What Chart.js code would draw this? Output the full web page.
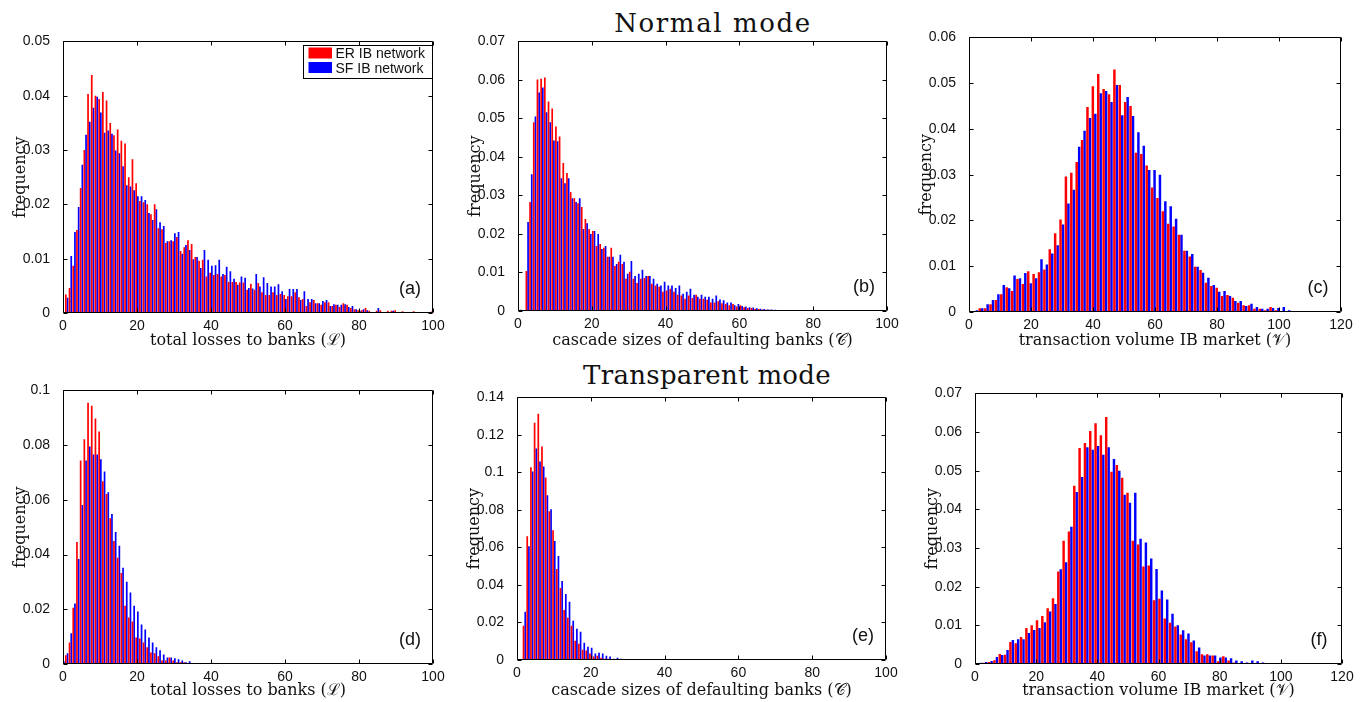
<!DOCTYPE html>
<html><head><meta charset="utf-8">
<script src="https://cdn.jsdelivr.net/npm/chart.js@4.4.1/dist/chart.umd.min.js"></script>
<style>
html,body{margin:0;padding:0;background:#fff;}
#wrap{position:relative;width:1365px;height:702px;overflow:hidden;background:#fff;}
#wrap canvas{position:absolute;}
.ttl{position:absolute;font-family:'DejaVu Serif',serif;font-size:26px;line-height:26px;color:#111;white-space:nowrap;transform:translateX(-50%);}
</style></head><body>
<div id="wrap">
<div class="ttl" style="left:713px;top:10px;letter-spacing:1.6px;">Normal mode</div>
<div class="ttl" style="left:707px;top:362px;letter-spacing:0.3px;">Transparent mode</div>
</div>
<script>
// ---------- labels / ticks ----------
const seriesLabels = ['ER IB network', 'SF IB network'];
const seriesColors = ['#ff0000', '#0000ff'];
const xTicks100 = [0, 20, 40, 60, 80, 100];
const xTicks120 = [0, 20, 40, 60, 80, 100, 120];
const yTicksNormalLoss = [0, 0.01, 0.02, 0.03, 0.04, 0.05];
const yTicksNormalCascade = [0, 0.01, 0.02, 0.03, 0.04, 0.05, 0.06, 0.07];
const yTicksNormalVolume = [0, 0.01, 0.02, 0.03, 0.04, 0.05, 0.06];
const yTicksTranspLoss = [0, 0.02, 0.04, 0.06, 0.08, 0.1];
const yTicksTranspCascade = [0, 0.02, 0.04, 0.06, 0.08, 0.1, 0.12, 0.14];
const yTicksTranspVolume = [0, 0.01, 0.02, 0.03, 0.04, 0.05, 0.06, 0.07];
const yTitle = 'frequency';
const xTitleLoss = 'total losses to banks (\u2112)';
const xTitleCascade = 'cascade sizes of defaulting banks (\u{1D49E})';
const xTitleVolume = 'transaction volume IB market (\u{1D4B1})';

// ---------- histogram bins (first bin centre, bin width) ----------
const binsNormalLoss = [1, 1];
const binsNormalCascade = [0.5, 1];
const binsNormalVolume = [0.4, 1.737];
const binsTranspLoss = [0, 1];
const binsTranspCascade = [0, 1];
const binsTranspVolume = [1.54, 1.74];

// ---------- series values ----------
const normalLossER = [0.0034,0.0046,0.0087,0.0153,0.0230,0.0300,0.0403,0.0438,0.0400,0.0394,
 0.0407,0.0391,0.0350,0.0327,0.0338,0.0317,0.0312,0.0250,0.0283,0.0239,
 0.0206,0.0204,0.0200,0.0182,0.0200,0.0156,0.0154,0.0129,0.0132,0.0132,
 0.0140,0.0114,0.0121,0.0134,0.0127,0.0103,0.0096,0.0098,0.0067,0.0074,
 0.0070,0.0072,0.0067,0.0070,0.0057,0.0057,0.0057,0.0056,0.0056,0.0043,
 0.0054,0.0043,0.0055,0.0038,0.0033,0.0033,0.0038,0.0033,0.0035,0.0033,
 0.0031,0.0031,0.0038,0.0029,0.0026,0.0013,0.0020,0.0024,0.0018,0.0015,
 0.0020,0.0020,0.0013,0.0015,0.0011,0.0018,0.0015,0.0009,0.0007,0.0005,
 0.0005,0.0009,0.0004,0.0002,0.0004,0.0005,0.0002,0.0004,0.0004,0.0005,
 0.0002,0.0003,0.0002,0.0002,0.0003,0.0002,0.0002,0.0001,0.0002,0.0003];
const normalLossSF = [0.0028,0.0105,0.0149,0.0195,0.0273,0.0328,0.0352,0.0378,0.0398,0.0369,
 0.0332,0.0336,0.0330,0.0299,0.0294,0.0270,0.0235,0.0233,0.0226,0.0215,
 0.0215,0.0208,0.0184,0.0171,0.0191,0.0167,0.0160,0.0132,0.0134,0.0147,
 0.0149,0.0109,0.0125,0.0116,0.0099,0.0103,0.0083,0.0116,0.0098,0.0087,
 0.0088,0.0098,0.0072,0.0085,0.0077,0.0063,0.0052,0.0067,0.0065,0.0046,
 0.0045,0.0072,0.0049,0.0066,0.0055,0.0049,0.0049,0.0053,0.0040,0.0026,
 0.0044,0.0044,0.0044,0.0024,0.0040,0.0026,0.0026,0.0018,0.0018,0.0022,
 0.0024,0.0013,0.0016,0.0015,0.0015,0.0016,0.0011,0.0013,0.0007,0.0004,
 0.0007,0.0005,0.0002,0.0002,0.0009,0.0002,0.0002,0.0002,0.0004,0.0002,
 0.0002,0.0001,0.0002,0.0001,0.0001,0.0002,0.0001,0.0001,0.0001,0.0001];

const normalCascadeER = [0,0,0.0104,0.0283,0.0490,0.0601,0.0603,0.0606,0.0544,0.0526,
 0.0479,0.0453,0.0384,0.0358,0.0309,0.0293,0.0280,0.0270,0.0239,0.0213,
 0.0208,0.0169,0.0174,0.0164,0.0141,0.0164,0.0117,0.0128,0.0122,0.0084,
 0.0102,0.0084,0.0073,0.0084,0.0086,0.0091,0.0071,0.0066,0.0063,0.0050,
 0.0053,0.0058,0.0050,0.0042,0.0040,0.0032,0.0040,0.0034,0.0042,0.0032,
 0.0032,0.0029,0.0022,0.0022,0.0025,0.0020,0.0018,0.0015,0.0018,0.0012,
 0.0015,0.0010,0.0008,0.0008,0.0006,0.0005,0.0004,0.0003,0.0003,0.0002,
 0.0002,0.0002,0.0001,0.0002,0.0001,0.0001,0.0001,0.0001,0.0001,0.0001,
 0.0001,0,0.0001,0,0.0001,0,0,0.0001,0,0,
 0,0,0,0,0,0,0,0,0,0];
const normalCascadeSF = [0.0003,0,0.0231,0.0355,0.0505,0.0567,0.0580,0.0516,0.0490,0.0443,
 0.0441,0.0345,0.0332,0.0345,0.0293,0.0283,0.0293,0.0213,0.0228,0.0200,
 0.0208,0.0200,0.0161,0.0169,0.0141,0.0141,0.0122,0.0146,0.0128,0.0097,
 0.0130,0.0091,0.0097,0.0107,0.0091,0.0091,0.0084,0.0071,0.0066,0.0076,
 0.0066,0.0066,0.0060,0.0066,0.0045,0.0050,0.0058,0.0042,0.0037,0.0042,
 0.0037,0.0037,0.0032,0.0040,0.0030,0.0028,0.0022,0.0022,0.0015,0.0018,
 0.0013,0.0012,0.0010,0.0009,0.0007,0.0006,0.0005,0.0004,0.0004,0.0003,
 0.0002,0.0002,0.0002,0.0001,0.0002,0.0001,0.0001,0.0001,0.0001,0.0001,
 0.0001,0.0001,0,0.0001,0,0.0001,0,0,0,0,
 0,0,0,0,0,0,0,0,0,0];

const normalVolumeER = [0,0.0002,0.0008,0.0008,0.0017,0.0026,0.0039,0.0054,0.0046,0.0072,
 0.0061,0.0089,0.0083,0.0087,0.0093,0.0137,0.0172,0.0202,0.0296,0.0304,
 0.0328,0.0376,0.0448,0.0493,0.0520,0.0487,0.0476,0.0530,0.0496,0.0459,
 0.0450,0.0348,0.0345,0.0320,0.0272,0.0249,0.0220,0.0193,0.0187,0.0169,
 0.0134,0.0121,0.0099,0.0092,0.0064,0.0057,0.0053,0.0035,0.0037,0.0031,
 0.0020,0.0015,0.0015,0.0007,0.0007,0.0004,0.0011,0.0004,0.0002,0.0002,
 0.0001,0.0001,0.0001,0,0.0001,0,0,0.0001,0,0];
const normalVolumeSF = [0.0001,0.0004,0.0008,0.0017,0.0026,0.0039,0.0059,0.0052,0.0080,0.0074,
 0.0085,0.0063,0.0074,0.0115,0.0104,0.0128,0.0146,0.0191,0.0237,0.0267,
 0.0361,0.0396,0.0424,0.0433,0.0478,0.0483,0.0459,0.0496,0.0430,0.0470,
 0.0428,0.0393,0.0363,0.0310,0.0310,0.0300,0.0242,0.0231,0.0204,0.0169,
 0.0134,0.0127,0.0099,0.0086,0.0075,0.0059,0.0044,0.0046,0.0035,0.0024,
 0.0024,0.0013,0.0018,0.0011,0.0007,0.0007,0.0009,0.0009,0.0011,0.0004,
 0.0002,0.0002,0.0001,0.0001,0.0002,0.0001,0,0.0001,0,0];

const transpLossER = [0.0003,0.0032,0.0079,0.0206,0.0446,0.0744,0.0821,0.0955,0.0944,0.0897,
 0.0850,0.0668,0.0621,0.0533,0.0450,0.0388,0.0333,0.0213,0.0170,0.0155,
 0.0097,0.0093,0.0079,0.0061,0.0042,0.0039,0.0028,0.0013,0.0013,0.0024,
 0.0013,0.0006,0.0006,0.0006,0.0003,0.0002,0.0001,0.0001,0.0001,0,
 0,0,0,0,0,0,0,0,0,0, 0,0,0,0,0,0,0,0,0,0, 0,0,0,0,0,0,0,0,0,0,
 0,0,0,0,0,0,0,0,0,0, 0,0,0,0,0,0,0,0,0,0, 0,0,0,0,0,0,0,0,0,0, 0];
const transpLossSF = [0.0010,0.0039,0.0112,0.0221,0.0384,0.0581,0.0744,0.0795,0.0766,0.0766,
 0.0748,0.0704,0.0628,0.0548,0.0482,0.0432,0.0352,0.0301,0.0261,0.0213,
 0.0192,0.0144,0.0126,0.0097,0.0079,0.0061,0.0050,0.0035,0.0024,0.0024,
 0.0021,0.0017,0.0013,0.0006,0.0010,0.0003,0.0003,0.0002,0.0002,0.0003,
 0.0001,0.0001,0,0,0,0,0,0,0,0, 0,0,0,0,0,0,0,0,0,0, 0,0,0,0,0,0,0,0,0,0,
 0,0,0,0,0,0,0,0,0,0, 0,0,0,0,0,0,0,0,0,0, 0,0,0,0,0,0,0,0,0,0, 0];

const transpCascadeER = [0,0,0.0182,0.0660,0.1027,0.1265,0.1313,0.1138,0.0973,0.0793,
 0.0692,0.0485,0.0384,0.0267,0.0225,0.0182,0.0103,0.0087,0.0055,0.0050,
 0.0034,0.0018,0.0023,0.0012,0.0007,0.0007,0.0005,0.0002,0.0001,0,
 0,0,0,0,0,0,0,0,0,0, 0,0,0,0,0,0,0,0,0,0, 0,0,0,0,0,0,0,0,0,0,
 0,0,0,0,0,0,0,0,0,0, 0,0,0,0,0,0,0,0,0,0, 0,0,0,0,0,0,0,0,0,0, 0];
const transpCascadeSF = [0,0,0.0257,0.0607,0.1005,0.1127,0.1058,0.1032,0.0878,0.0804,
 0.0634,0.0554,0.0421,0.0352,0.0310,0.0209,0.0166,0.0150,0.0092,0.0071,
 0.0065,0.0034,0.0039,0.0034,0.0023,0.0018,0.0007,0.0012,0.0007,0.0003,
 0.0002,0.0002,0.0001,0,0,0,0,0,0,0, 0,0,0,0,0,0,0,0,0,0, 0,0,0,0,0,0,0,0,0,0,
 0,0,0,0,0,0,0,0,0,0, 0,0,0,0,0,0,0,0,0,0, 0,0,0,0,0,0,0,0,0,0, 0];

const transpVolumeER = [0.0002,0.0003,0.0005,0.0010,0.0026,0.0024,0.0057,0.0054,0.0070,0.0093,
 0.0100,0.0113,0.0124,0.0144,0.0170,0.0239,0.0319,0.0343,0.0461,0.0559,
 0.0572,0.0603,0.0623,0.0592,0.0639,0.0497,0.0515,0.0482,0.0443,0.0319,
 0.0309,0.0252,0.0255,0.0165,0.0169,0.0118,0.0107,0.0097,0.0076,0.0064,
 0.0056,0.0033,0.0025,0.0025,0.0022,0.0007,0.0020,0.0009,0.0004,0.0002,
 0.0002,0.0002,0.0001,0.0001,0.0001,0.0001,0,0.0001,0,0,
 0,0,0,0,0,0,0,0,0];
const transpVolumeSF = [0.0003,0.0005,0.0008,0.0018,0.0023,0.0036,0.0062,0.0064,0.0064,0.0080,
 0.0088,0.0093,0.0108,0.0136,0.0155,0.0245,0.0263,0.0355,0.0445,0.0484,
 0.0561,0.0554,0.0564,0.0541,0.0561,0.0530,0.0500,0.0438,0.0417,0.0443,
 0.0324,0.0314,0.0273,0.0246,0.0190,0.0167,0.0130,0.0100,0.0087,0.0079,
 0.0061,0.0043,0.0022,0.0022,0.0022,0.0017,0.0017,0.0015,0.0009,0.0007,
 0.0004,0.0009,0.0007,0.0004,0.0002,0.0001,0.0002,0.0001,0.0001,0.0001,
 0.0001,0,0,0.0001,0,0,0,0,0];

// ---------- drawing helpers ----------
const TICK_FONT = {family: "'Liberation Sans', Arial, sans-serif", size: 14};
const TITLE_FONT = {family: "'DejaVu Serif', serif", size: 16};
const fmt = v => String(Number(v.toFixed(4)));

const framePlugin = {
  id: 'frame',
  afterDatasetsDraw(chart, args, opts) {
    const {ctx, chartArea: a, scales: {x, y}} = chart;
    ctx.save();
    ctx.strokeStyle = '#000';
    ctx.lineWidth = 1;
    const L = Math.round(a.left) + 0.5, R = Math.round(a.right) - 0.5;
    const T = Math.round(a.top) + 0.5, B = Math.round(a.bottom) - 0.5;
    const tl = 4;
    ctx.beginPath();
    ctx.rect(L, T, R - L, B - T);
    x.ticks.forEach(t => {
      const px = Math.round(x.getPixelForValue(t.value)) + 0.5;
      ctx.moveTo(px, B); ctx.lineTo(px, B - tl);
      ctx.moveTo(px, T); ctx.lineTo(px, T + tl);
    });
    y.ticks.forEach(t => {
      const py = Math.round(y.getPixelForValue(t.value)) + 0.5;
      ctx.moveTo(L, py); ctx.lineTo(L + tl, py);
      ctx.moveTo(R, py); ctx.lineTo(R - tl, py);
    });
    ctx.stroke();
    // panel tag
    ctx.fillStyle = '#111';
    ctx.font = "18px 'Liberation Sans', Arial, sans-serif";
    ctx.textAlign = 'center';
    ctx.textBaseline = 'middle';
    ctx.fillText(opts.tag, a.right - 23, a.bottom - 24);
    // legend
    if (opts.legend) {
      const ds = chart.data.datasets;
      const bw = 129, bh = 33;
      const bx = Math.round(a.right) - 1 - bw + 0.5, by = Math.round(a.top) + 4 + 0.5;
      ctx.fillStyle = '#fff';
      ctx.fillRect(bx, by, bw, bh);
      ctx.strokeRect(bx, by, bw, bh);
      ctx.font = "14px 'Liberation Sans', Arial, sans-serif";
      ctx.textAlign = 'left';
      ds.forEach((d, i) => {
        ctx.fillStyle = d.backgroundColor;
        ctx.fillRect(bx + 5, by + 2 + i * 14.5, 23.5, 11);
        ctx.fillStyle = '#111';
        ctx.fillText(d.label, bx + 32, by + 9 + i * 14.5);
      });
    }
    ctx.restore();
  }
};

const Y_W = 62, X_H = 44, PAD_T = 12, PAD_R = 16;

function makePanel(p) {
  const [L, T, R, B] = p.rect;
  const cv = document.createElement('canvas');
  const W = (R - L) + Y_W + PAD_R, H = (B - T) + PAD_T + X_H;
  cv.width = W; cv.height = H;
  cv.style.left = (L - Y_W) + 'px';
  cv.style.top = (T - PAD_T) + 'px';
  cv.style.width = W + 'px'; cv.style.height = H + 'px';
  document.getElementById('wrap').appendChild(cv);
  const [start, width] = p.bins;
  const pts = vals => vals.map((v, i) => ({x: start + i * width, y: v}));
  const titleDy = (p.titleDy || 26) + 2;
  new Chart(cv, {
    type: 'bar',
    data: {
      datasets: [
        {label: seriesLabels[0], data: pts(p.er), backgroundColor: seriesColors[0], borderWidth: 0,
         categoryPercentage: 0.92, barPercentage: 1},
        {label: seriesLabels[1], data: pts(p.sf), backgroundColor: seriesColors[1], borderWidth: 0,
         categoryPercentage: 0.92, barPercentage: 1}
      ]
    },
    options: {
      responsive: false, animation: false, devicePixelRatio: 1,
      layout: {padding: {top: PAD_T, right: PAD_R, left: 0, bottom: 0}},
      plugins: {
        legend: {display: false}, tooltip: {enabled: false},
        frame: {tag: p.tag, legend: !!p.legend}
      },
      scales: {
        x: {
          type: 'linear', position: 'bottom', min: 0, max: p.xMax, offset: false,
          afterFit: s => { s.height = X_H; },
          afterBuildTicks: s => { s.ticks = p.xTicks.map(v => ({value: v})); },
          grid: {display: false}, border: {display: false},
          ticks: {font: TICK_FONT, color: '#111', padding: -3, maxRotation: 0, autoSkip: false, callback: v => fmt(v)},
          title: {display: true, text: p.xTitle, font: TITLE_FONT, color: '#111',
                  padding: {top: 0, bottom: X_H - titleDy - TITLE_FONT.size * 0.6}}
        },
        y: {
          type: 'linear', position: 'left', min: 0, max: p.yTicks[p.yTicks.length - 1],
          afterFit: s => { s.width = Y_W; },
          afterBuildTicks: s => { s.ticks = p.yTicks.map(v => ({value: v})); },
          grid: {display: false}, border: {display: false},
          ticks: {font: TICK_FONT, color: '#111', padding: 5, autoSkip: false, callback: v => fmt(v)},
          title: {display: true, text: yTitle, font: TITLE_FONT, color: '#111',
                  padding: {top: Y_W - 42 - TITLE_FONT.size * 0.6, bottom: 0}}
        }
      }
    },
    plugins: [framePlugin]
  });
}

makePanel({rect: [63, 40, 433, 313], bins: binsNormalLoss, er: normalLossER, sf: normalLossSF,
  xMax: 100, xTicks: xTicks100, yTicks: yTicksNormalLoss, xTitle: xTitleLoss, tag: '(a)', legend: true});
makePanel({rect: [518, 40, 887, 311], bins: binsNormalCascade, er: normalCascadeER, sf: normalCascadeSF,
  xMax: 100, xTicks: xTicks100, yTicks: yTicksNormalCascade, xTitle: xTitleCascade, tag: '(b)', titleDy: 28});
makePanel({rect: [969, 36, 1341, 312], bins: binsNormalVolume, er: normalVolumeER, sf: normalVolumeSF,
  xMax: 120, xTicks: xTicks120, yTicks: yTicksNormalVolume, xTitle: xTitleVolume, tag: '(c)', titleDy: 27});
makePanel({rect: [63, 389, 433, 664], bins: binsTranspLoss, er: transpLossER, sf: transpLossSF,
  xMax: 100, xTicks: xTicks100, yTicks: yTicksTranspLoss, xTitle: xTitleLoss, tag: '(d)', titleDy: 25});
makePanel({rect: [517, 396, 886, 660], bins: binsTranspCascade, er: transpCascadeER, sf: transpCascadeSF,
  xMax: 100, xTicks: xTicks100, yTicks: yTicksTranspCascade, xTitle: xTitleCascade, tag: '(e)', titleDy: 29});
makePanel({rect: [975, 392, 1342, 664], bins: binsTranspVolume, er: transpVolumeER, sf: transpVolumeSF,
  xMax: 120, xTicks: xTicks120, yTicks: yTicksTranspVolume, xTitle: xTitleVolume, tag: '(f)', titleDy: 25});
</script>
</body></html>
